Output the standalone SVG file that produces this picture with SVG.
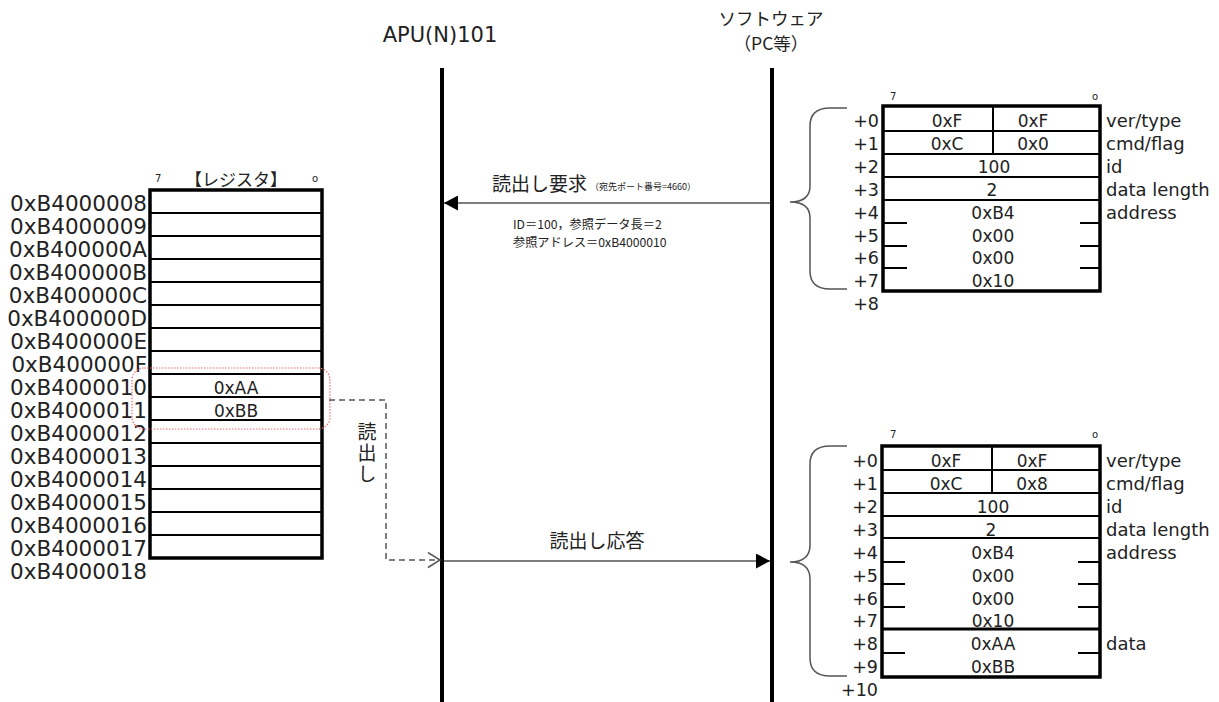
<svg xmlns="http://www.w3.org/2000/svg" width="1219" height="702" viewBox="0 0 1219 702">
<style>
.t{font-family:"DejaVu Sans","Noto Sans CJK JP",sans-serif;fill:#222}
.j{font-family:"Noto Sans CJK JP","DejaVu Sans",sans-serif;fill:#222}
.addr{font-size:21.5px;text-anchor:end}
.off{font-size:17.5px;text-anchor:end}
.fld{font-size:18px}
.cell{font-size:17px;text-anchor:middle}
.bit{font-size:10px}
.outer{fill:#fff;stroke:#000;stroke-width:3.5}
.in{stroke:#000;stroke-width:2;fill:none}
.thick{stroke:#000;stroke-width:3;fill:none}
.life{stroke:#000;stroke-width:4}
.brace{fill:none;stroke:#555;stroke-width:1.5}
.msg{stroke:#555;stroke-width:1.6;fill:none}
.dash{stroke:#555;stroke-width:1.5;fill:none;stroke-dasharray:6 4}
</style>
<defs>
<marker id="fill" viewBox="0 0 14 15" refX="14" refY="7.5" markerWidth="14" markerHeight="15" markerUnits="userSpaceOnUse" orient="auto"><path d="M0,0 L14,7.5 L0,15 z" fill="#000"/></marker>
<marker id="open" viewBox="0 0 14 17" refX="13" refY="8.5" markerWidth="14" markerHeight="17" markerUnits="userSpaceOnUse" orient="auto"><path d="M1,1 L13,8.5 L1,16" fill="none" stroke="#555" stroke-width="1.5"/></marker>
</defs>
<rect width="1219" height="702" fill="#fff"/>

<g id="apu">
<text class="t" x="440" y="42" font-size="21" text-anchor="middle">APU(N)101</text>
<line class="life" x1="442" y1="68" x2="442" y2="702"/>
</g>

<g id="software">
<text class="j" x="771" y="25" font-size="17.5" text-anchor="middle">ソフトウェア</text>
<text class="j" x="771" y="50" font-size="17.5" text-anchor="middle">（PC等）</text>
<line class="life" x1="772" y1="68" x2="772" y2="702"/>
</g>

<g id="register">
<text class="j" x="236" y="186" font-size="17" text-anchor="middle">【レジスタ】</text>
<text class="t bit" x="155" y="182">7</text>
<text class="t bit" x="312" y="182">o</text>
<rect class="outer" x="150" y="190" width="172" height="368"/>
<path class="in" d="M150,213H322M150,236H322M150,259H322M150,282H322M150,305H322M150,328H322M150,351H322M150,374H322M150,397H322M150,420H322M150,443H322M150,466H322M150,489H322M150,512H322M150,535H322"/>
<text class="t cell" x="236" y="394">0xAA</text>
<text class="t cell" x="236" y="417">0xBB</text>
<g class="t addr">
<text x="147" y="211">0xB4000008</text>
<text x="147" y="234">0xB4000009</text>
<text x="147" y="257">0xB400000A</text>
<text x="147" y="280">0xB400000B</text>
<text x="147" y="303">0xB400000C</text>
<text x="147" y="326">0xB400000D</text>
<text x="147" y="349">0xB400000E</text>
<text x="147" y="372">0xB400000F</text>
<text x="147" y="395">0xB4000010</text>
<text x="147" y="418">0xB4000011</text>
<text x="147" y="441">0xB4000012</text>
<text x="147" y="464">0xB4000013</text>
<text x="147" y="487">0xB4000014</text>
<text x="147" y="510">0xB4000015</text>
<text x="147" y="533">0xB4000016</text>
<text x="147" y="556">0xB4000017</text>
<text x="147" y="579">0xB4000018</text>
</g>
<rect x="132" y="368" width="198" height="61" rx="12" fill="none" stroke="#f06a6a" stroke-width="1.2" stroke-dasharray="1.5 1.5"/>
</g>

<g id="req-packet">
<text class="t bit" x="890" y="100">7</text>
<text class="t bit" x="1092" y="100">o</text>
<rect class="outer" x="883" y="106" width="217" height="185"/>
<path class="in" d="M883,131H1100M883,154H1100M883,177H1100M883,200H1100M993,106V154M883,223H907M1080,223H1100M883,246H907M1080,246H1100M883,268H907M1080,268H1100"/>
<g class="t cell">
<text x="947" y="127">0xF</text><text x="1033" y="127">0xF</text>
<text x="947" y="150">0xC</text><text x="1033" y="150">0x0</text>
<text x="994" y="173">100</text>
<text x="992" y="196">2</text>
<text x="993" y="219">0xB4</text>
<text x="993" y="242">0x00</text>
<text x="993" y="264">0x00</text>
<text x="993" y="287">0x10</text>
</g>
<g class="t off">
<text x="879" y="127">+0</text><text x="879" y="150">+1</text><text x="879" y="173">+2</text><text x="879" y="196">+3</text><text x="879" y="219">+4</text><text x="879" y="242">+5</text><text x="879" y="264">+6</text><text x="879" y="287">+7</text><text x="879" y="310">+8</text>
</g>
<g class="t fld">
<text x="1106" y="127">ver/type</text><text x="1106" y="150">cmd/flag</text><text x="1106" y="173">id</text><text x="1106" y="196">data length</text><text x="1106" y="219">address</text>
</g>
<path class="brace" d="M847,108 L830,108 Q810,108 810,126 L810,186 Q810,202 790,202 Q810,202 810,218 L810,271 Q810,289 830,289 L847,289"/>
</g>

<g id="resp-packet">
<text class="t bit" x="890" y="438">7</text>
<text class="t bit" x="1092" y="438">o</text>
<rect class="outer" x="882" y="446" width="218" height="231"/>
<path class="in" d="M882,470H1100M882,493H1100M882,516H1100M882,538H1100M992,446V493M882,562H905M1078,562H1100M882,584H905M1078,584H1100M882,607H905M1078,607H1100M882,653H905M1078,653H1100"/>
<path class="thick" d="M882,629H1100"/>
<g class="t cell">
<text x="946" y="467">0xF</text><text x="1032" y="467">0xF</text>
<text x="946" y="490">0xC</text><text x="1032" y="490">0x8</text>
<text x="993" y="513">100</text>
<text x="991" y="536">2</text>
<text x="993" y="559">0xB4</text>
<text x="993" y="582">0x00</text>
<text x="993" y="605">0x00</text>
<text x="993" y="627">0x10</text>
<text x="993" y="650">0xAA</text>
<text x="993" y="673">0xBB</text>
</g>
<g class="t off">
<text x="878" y="467">+0</text><text x="878" y="490">+1</text><text x="878" y="513">+2</text><text x="878" y="536">+3</text><text x="878" y="559">+4</text><text x="878" y="582">+5</text><text x="878" y="605">+6</text><text x="878" y="627">+7</text><text x="878" y="650">+8</text><text x="878" y="673">+9</text><text x="878" y="696">+10</text>
</g>
<g class="t fld">
<text x="1106" y="467">ver/type</text><text x="1106" y="490">cmd/flag</text><text x="1106" y="513">id</text><text x="1106" y="536">data length</text><text x="1106" y="559">address</text><text x="1106" y="650">data</text>
</g>
<path class="brace" d="M847,446 L830,446 Q810,446 810,464 L810,545 Q810,562 790,562 Q810,562 810,579 L810,658 Q810,676 830,676 L847,676"/>
</g>

<g id="connectors">
<line class="msg" x1="770" y1="203" x2="444" y2="203" marker-end="url(#fill)"/>
<text class="j" x="492" y="191" font-size="19">読出し要求</text>
<text class="j" x="590" y="190" font-size="9">（宛先ポート番号=4660）</text>
<text class="j" x="513" y="229" font-size="12.2">ID＝100，参照データ長＝2</text>
<text class="j" x="513" y="247" font-size="12.2">参照アドレス＝0xB4000010</text>
<line class="msg" x1="444" y1="561" x2="770" y2="561" marker-end="url(#fill)"/>
<text class="j" x="597" y="548" font-size="19" text-anchor="middle">読出し応答</text>
<path class="dash" d="M329,400 H386 V560 H440" marker-end="url(#open)"/>
<text class="j" x="367" y="422" font-size="19" writing-mode="vertical-rl" letter-spacing="2">読出し</text>
</g>
</svg>
